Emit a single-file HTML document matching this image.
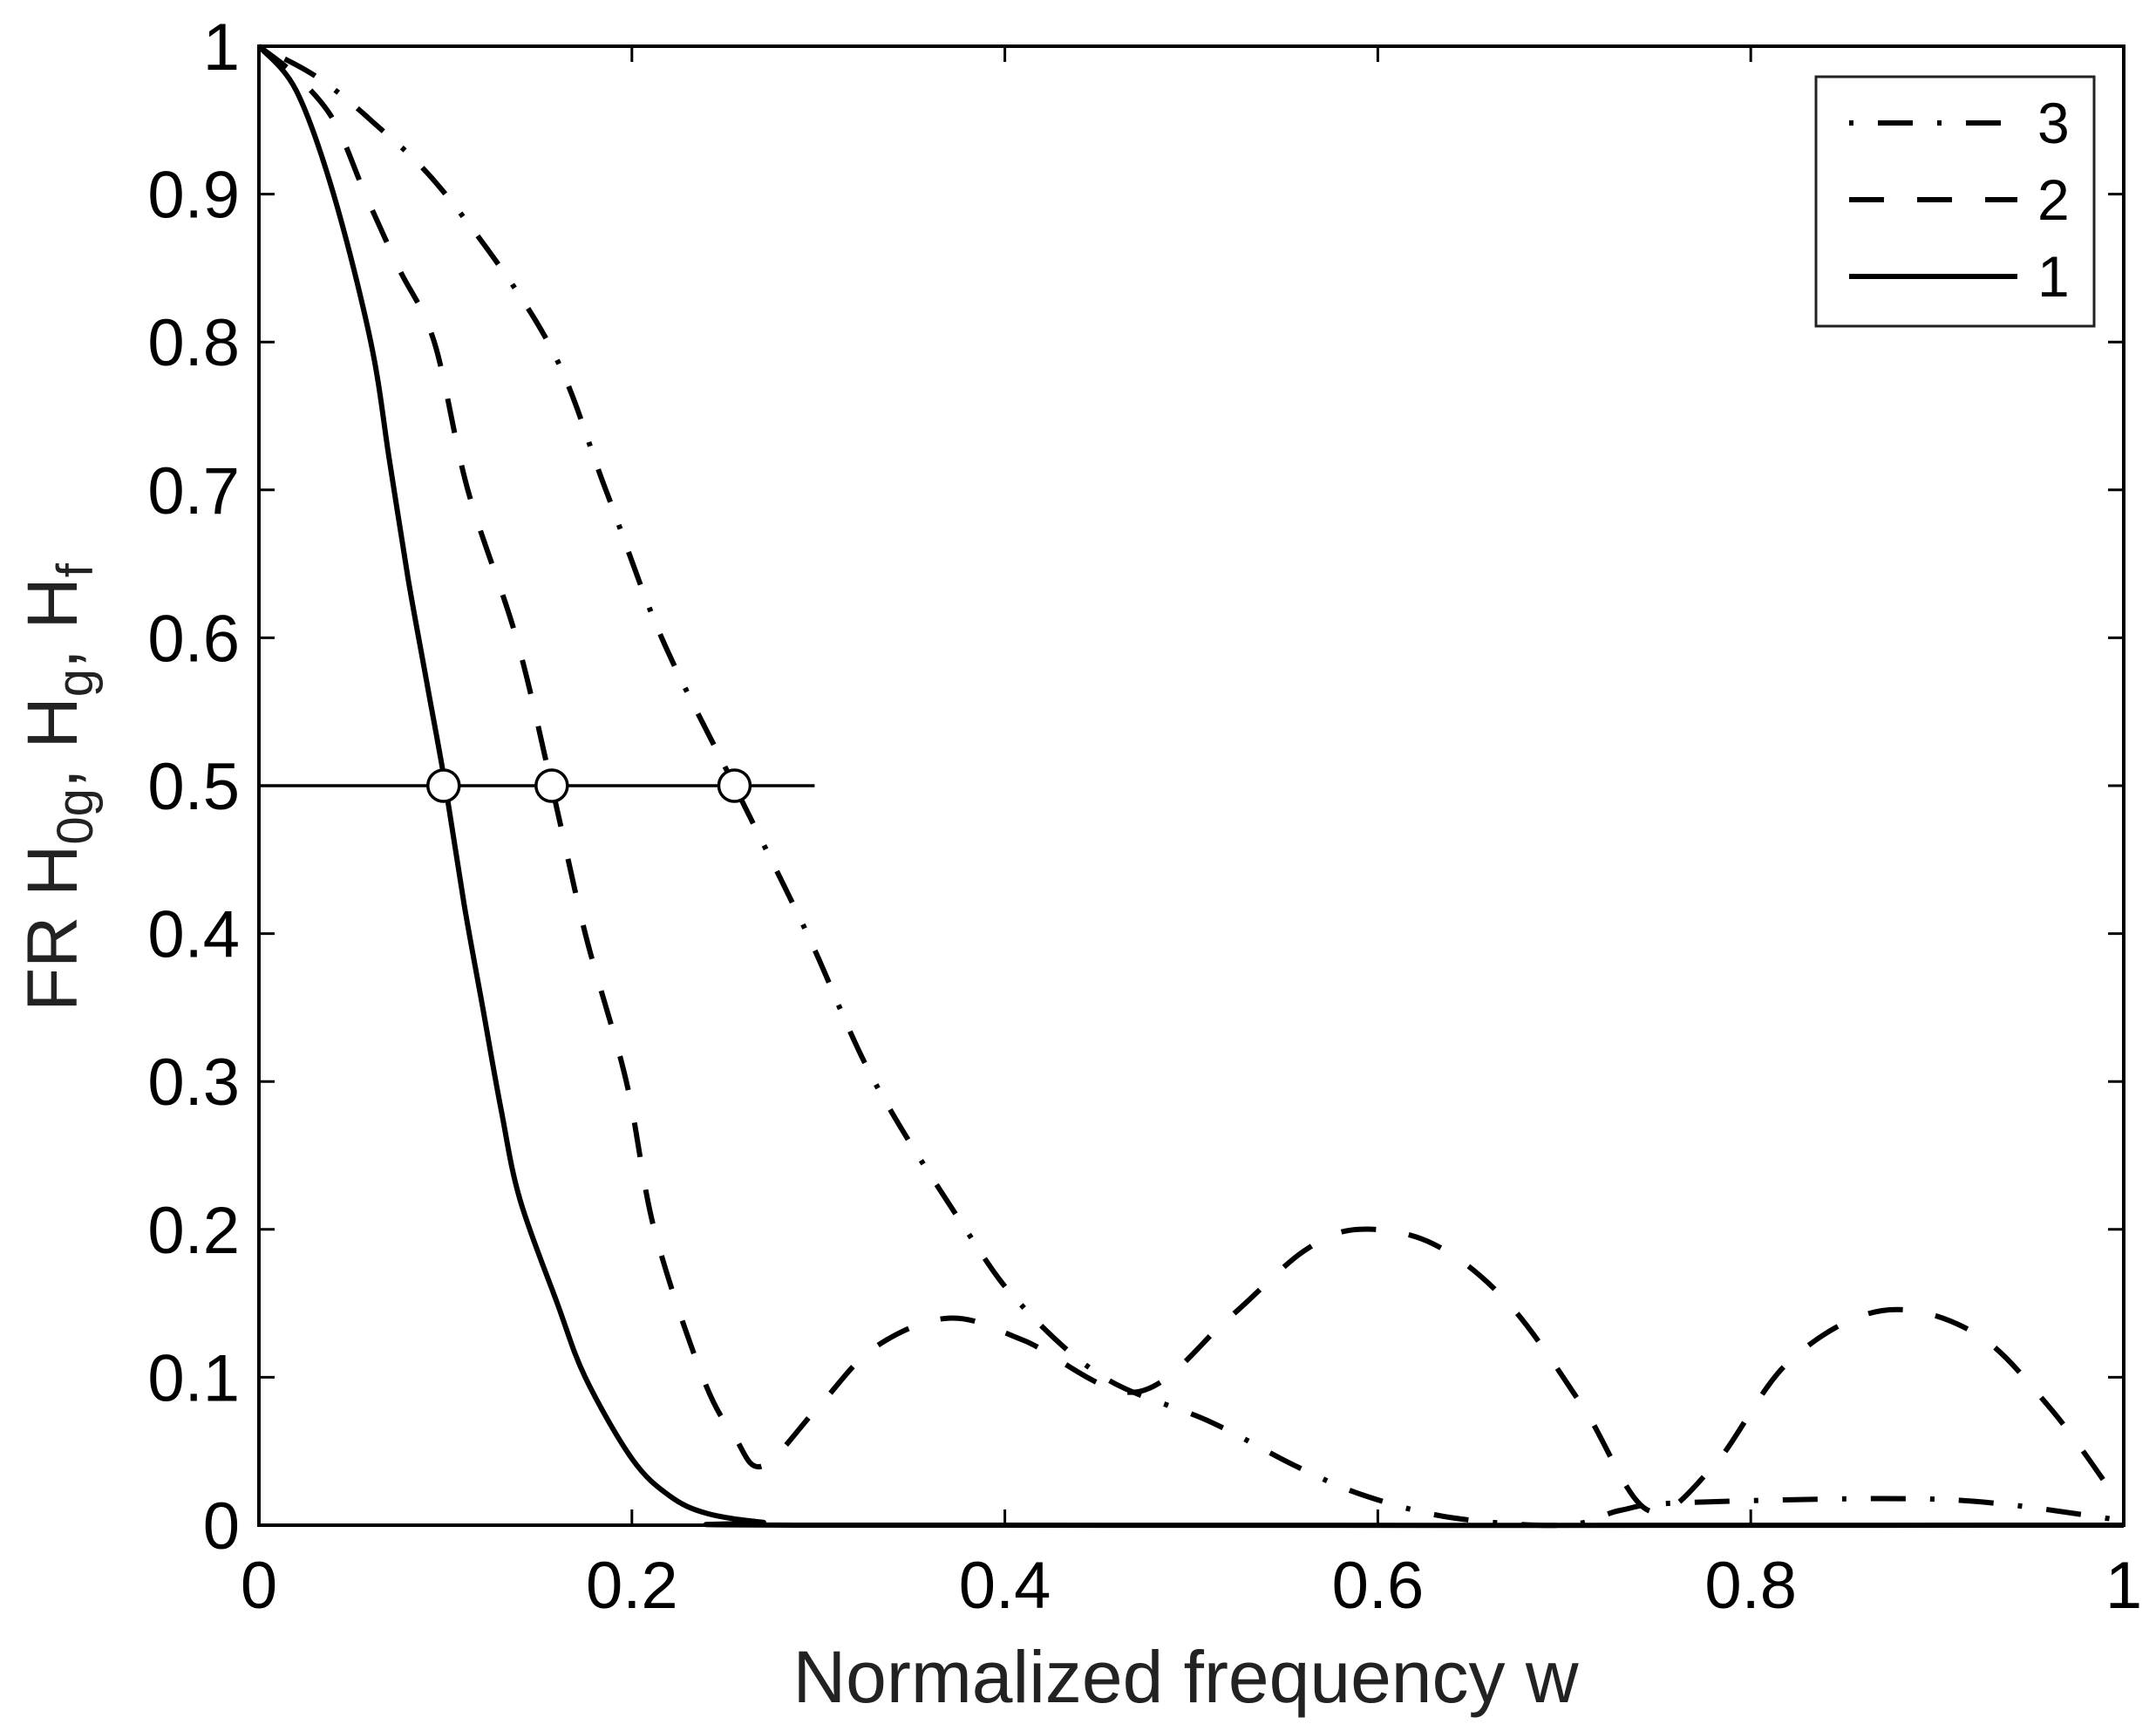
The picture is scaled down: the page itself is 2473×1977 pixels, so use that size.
<!DOCTYPE html>
<html><head><meta charset="utf-8"><style>
html,body{margin:0;padding:0;background:#fff;}
svg{display:block;font-family:"Liberation Sans",Arial,sans-serif;}
</style></head><body>
<svg id="chart" width="2473" height="1977" viewBox="0 0 2473 1977">
<g id="plot"></g>
<rect x="297" y="53" width="2139" height="1696" fill="none" stroke="#000" stroke-width="4"/>
<g id="ticks"></g>
<text x="1360" y="1952" font-size="84" text-anchor="middle" fill="#222">Normalized frequency w</text>
<text transform="translate(88,903) rotate(-90)" font-size="82" text-anchor="middle" fill="#222">FR H<tspan font-size="58" dy="18">0g</tspan><tspan dy="-18">, H</tspan><tspan font-size="58" dy="18">g</tspan><tspan dy="-18">, H</tspan><tspan font-size="58" dy="18">f</tspan></text>
<g>
<rect x="2083" y="88" width="319" height="286" fill="#fff" stroke="#222" stroke-width="3"/>
<line x1="2121" y1="141" x2="2314" y2="141" stroke="#000" stroke-width="6" stroke-dasharray="5,28,40,28"/>
<text x="2337" y="164" font-size="66">3</text>
<line x1="2121" y1="229" x2="2314" y2="229" stroke="#000" stroke-width="6" stroke-dasharray="40,38"/>
<text x="2337" y="252" font-size="66">2</text>
<line x1="2121" y1="317" x2="2314" y2="317" stroke="#000" stroke-width="6"/>
<text x="2337" y="340" font-size="66">1</text>
</g>
</svg>
<script>
const xTicks=[0,0.2,0.4,0.6,0.8,1];
const xTickLabels=["0","0.2","0.4","0.6","0.8","1"];
const yTicks=[0,0.1,0.2,0.3,0.4,0.5,0.6,0.7,0.8,0.9,1];
const yTickLabels=["0","0.1","0.2","0.3","0.4","0.5","0.6","0.7","0.8","0.9","1"];
const s1x=[0,0.02,0.04,0.06,0.07,0.08,0.09,0.1,0.11,0.12,0.13,0.14,0.16,0.175,0.2,0.22,0.24,0.27,0.3,1];
const s1y=[1,0.97,0.9,0.8,0.72,0.64,0.57,0.5,0.42,0.35,0.28,0.22,0.15,0.1,0.045,0.02,0.008,0.002,0,0];
const s2x=[0,0.02,0.04,0.057,0.075,0.094,0.112,0.138,0.157,0.175,0.197,0.212,0.238,0.255,0.27,0.3,0.33,0.37,0.41,0.47,0.52,0.56,0.59,0.63,0.67,0.71,0.745,0.78,0.82,0.87,0.92,0.96,0.995];
const s2y=[1,0.98,0.95,0.9,0.85,0.8,0.7,0.6,0.5,0.4,0.3,0.2,0.1,0.06,0.04,0.08,0.12,0.14,0.125,0.09,0.14,0.185,0.2,0.19,0.15,0.08,0.01,0.04,0.11,0.145,0.13,0.08,0.02];
const s3x=[0,0.03,0.06,0.1,0.155,0.186,0.216,0.255,0.294,0.33,0.379,0.408,0.453,0.51,0.556,0.593,0.64,0.7,0.73,0.76,0.87,0.93,1];
const s3y=[1,0.98,0.95,0.9,0.8,0.7,0.6,0.5,0.4,0.3,0.2,0.15,0.1,0.07,0.04,0.02,0.005,0,0.01,0.015,0.018,0.015,0.003];
const halfLevel=[0.5];
const halfPoints=[0.099,0.157,0.255];
const halfLineEnd=[0.298];
const L=297,R=2436,T=53,B=1749;
const sx=v=>L+v*(R-L), sy=v=>B-v*(B-T);
const NS="http://www.w3.org/2000/svg";
const plot=document.getElementById('plot'), tk=document.getElementById('ticks');
function mk(tag,attrs,parent){const e=document.createElementNS(NS,tag);for(const k in attrs)e.setAttribute(k,attrs[k]);parent.appendChild(e);return e;}
function smoothPath(P){
  let d='M'+P[0][0].toFixed(1)+','+P[0][1].toFixed(1);
  for(let i=0;i<P.length-1;i++){
    const p0=P[Math.max(i-1,0)],p1=P[i],p2=P[i+1],p3=P[Math.min(i+2,P.length-1)];
    const c1=[p1[0]+(p2[0]-p0[0])/6,p1[1]+(p2[1]-p0[1])/6];
    const c2=[p2[0]-(p3[0]-p1[0])/6,p2[1]-(p3[1]-p1[1])/6];
    d+=' C'+c1.map(v=>v.toFixed(1)).join(',')+' '+c2.map(v=>v.toFixed(1)).join(',')+' '+p2.map(v=>v.toFixed(1)).join(',');
  }
  return d;
}
function series(xs,ys,dash,name){
  const P=xs.map((x,i)=>[sx(x),sy(ys[i])]);
  const p=mk('path',{d:smoothPath(P),fill:'none',stroke:'#000','stroke-width':6,'stroke-linejoin':'round','stroke-dasharray':dash},plot);
  
  
}
series(s3x,s3y,'5,28,40,28','series-3-dashdot');
series(s2x,s2y,'40,38','series-2-dashed');
series(s1x,s1y,'none','series-1-solid');
const hl=mk('line',{x1:sx(0),y1:sy(halfLevel[0]),x2:sx(halfLineEnd[0]),y2:sy(halfLevel[0]),stroke:'#000','stroke-width':3.5},plot);


halfPoints.forEach(v=>{
  const c=mk('circle',{cx:sx(v),cy:sy(halfLevel[0]),r:18,fill:'#fff',stroke:'#000','stroke-width':3.5},plot);
  
  
});
xTicks.forEach((v,i)=>{
  const a=mk('line',{x1:sx(v),y1:B,x2:sx(v),y2:B-18,stroke:'#000','stroke-width':3},tk);
  
  
  const b=mk('line',{x1:sx(v),y1:T,x2:sx(v),y2:T+18,stroke:'#000','stroke-width':3},tk);
  
  
  const t=mk('text',{x:sx(v),y:B+95,'font-size':76,'text-anchor':'middle'},tk);
  t.textContent=xTickLabels[i];
  
  
});
yTicks.forEach((v,i)=>{
  const a=mk('line',{x1:L,y1:sy(v),x2:L+18,y2:sy(v),stroke:'#000','stroke-width':3},tk);
  
  
  const b=mk('line',{x1:R,y1:sy(v),x2:R-18,y2:sy(v),stroke:'#000','stroke-width':3},tk);
  
  
  const t=mk('text',{x:L-22,y:sy(v)+27,'font-size':76,'text-anchor':'end'},tk);
  t.textContent=yTickLabels[i];
  
  
});
</script>
</body></html>
